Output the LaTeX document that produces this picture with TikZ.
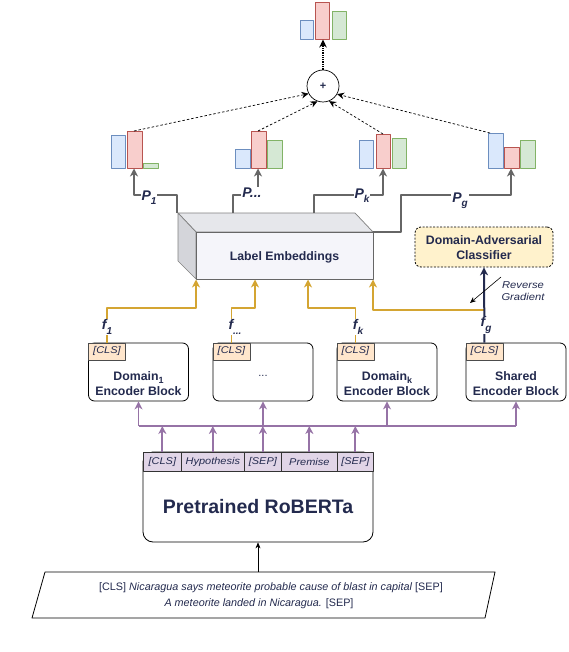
\documentclass[tikz,border=0pt]{standalone}
\usepackage{fontspec}
\setmainfont{Liberation Sans}
\newfontfamily\widefont[FakeStretch=1.12]{Liberation Sans}
\usetikzlibrary{arrows.meta}
\definecolor{navy}{RGB}{35,42,78}
\definecolor{gold}{RGB}{212,165,50}
\definecolor{purp}{HTML}{9673A6}
\definecolor{gline}{HTML}{666666}
\definecolor{bfill}{HTML}{DAE8FC}\definecolor{bdraw}{HTML}{6C8EBF}
\definecolor{rfill}{HTML}{F8CECC}\definecolor{rdraw}{HTML}{B85450}
\definecolor{gfill}{HTML}{D5E8D4}\definecolor{gdraw}{HTML}{82B366}
\definecolor{yfill}{HTML}{FFF2CC}
\definecolor{ofill}{HTML}{FFE6CC}
\definecolor{lfill}{HTML}{E1D5E7}
\definecolor{topface}{HTML}{E6E7EB}
\definecolor{leftface}{HTML}{D4D5DA}
\definecolor{frontface}{HTML}{F5F5FA}
\newcommand\lsub[1]{\raisebox{-0.3em}{\fontsize{10}{10}\selectfont #1}}
\newcommand\tsub[1]{\raisebox{-0.25em}{\fontsize{9}{9}\selectfont #1}}
\begin{document}
\begin{tikzpicture}[x=1pt,y=-1pt,line join=round,
  bb/.style={fill=bfill,draw=bdraw,line width=0.8pt},
  rb/.style={fill=rfill,draw=rdraw,line width=0.8pt},
  gb/.style={fill=gfill,draw=gdraw,line width=0.8pt},
  tipA/.style={-{Stealth[length=8pt,width=8pt,inset=2.5pt]}},
  garr/.style={draw=gline,line width=1.8pt,tipA},
  goldarr/.style={draw=gold,line width=1.8pt,tipA},
  parr/.style={draw=purp,line width=1.8pt,tipA},
  pline/.style={draw=purp,line width=1.8pt},
  narr/.style={draw=navy,line width=2pt,tipA},
  dasharr/.style={draw=black,line width=0.7pt,dash pattern=on 2.5pt off 2pt,-{Stealth[length=7pt,width=6.5pt]}},
  dotarr/.style={draw=black,line width=1.3pt,densely dotted,-{Stealth[length=8pt,width=7.5pt]}},
  lbl/.style={font=\fontsize{14}{14}\selectfont\bfseries\itshape,text=navy,fill=white,inner sep=1pt},
  boldtxt/.style={font=\fontsize{12.3}{15}\selectfont\bfseries,text=navy,align=center},
  encbox/.style={draw=black,line width=0.8pt,rounded corners=6pt,minimum width=100pt,minimum height=58pt,inner sep=0pt},
  tagbox/.style={draw=gray!60!black,line width=0.7pt,fill=ofill,minimum width=37pt,minimum height=17pt,inner sep=0pt,anchor=north west,font=\widefont\fontsize{9.8}{10}\selectfont\itshape,text=navy},
  cellbox/.style={draw=black!80,line width=0.7pt,fill=lfill,minimum height=19pt,inner sep=0pt,anchor=north west,font=\widefont\fontsize{9.8}{10}\selectfont\itshape,text=navy},
]
\useasboundingbox (0,0) rectangle (568,652);

% ---------- top result bars
\draw[bb] (300,20) rectangle (313,39);
\draw[rb] (315,2) rectangle (329,39);
\draw[gb] (332,11) rectangle (346,39);
\coordinate (topbars) at (323,39.5);

% ---------- per-head bars
\draw[bb] (111,135) rectangle (125,168);
\draw[rb] (127,131) rectangle (142,168);
\draw[gb] (143,163) rectangle (158,168);
\draw[bb] (235,149) rectangle (250,168);
\draw[rb] (251,131) rectangle (266,168);
\draw[gb] (267,140) rectangle (282,168);
\draw[bb] (359,140) rectangle (373,168);
\draw[rb] (376,134) rectangle (390,168);
\draw[gb] (392,138) rectangle (406,168);
\draw[bb] (488,133) rectangle (503,168);
\draw[rb] (504,147) rectangle (519,168);
\draw[gb] (520,140) rectangle (535,168);
\coordinate (ch1) at (134,168.5);
\coordinate (ch2) at (258,168.5);
\coordinate (ch3) at (383,168.5);
\coordinate (ch4) at (511,168.5);
\coordinate (d1) at (134,131);
\coordinate (d2) at (258,131);
\coordinate (d3) at (383,134);
\coordinate (d4) at (490,133);

% ---------- sum node
\node[draw,circle,minimum size=32pt,inner sep=0pt,line width=0.7pt,text=navy,font=\bfseries\fontsize{11}{11}\selectfont] (plus) at (323,86) {+};
\draw[dotarr] (plus.north) -- (topbars);
\draw[dasharr] (d1) -- (plus.208);
\draw[dasharr] (d2) -- (plus.250);
\draw[dasharr] (d3) -- (plus.292);
\draw[dasharr] (d4) -- (plus.330);

% ---------- label embeddings 3D box
\draw[draw=gray,line width=0.7pt,fill=topface] (178,213) -- (355,213) -- (373,232) -- (196,232) -- cycle;
\draw[draw=gray,line width=0.7pt,fill=leftface] (178,213) -- (196,232) -- (196,279) -- (178,261) -- cycle;
\node[draw=gray!80!black,line width=0.7pt,fill=frontface,minimum width=177pt,minimum height=47pt,inner sep=0pt] (le) at (284.5,255.5) {};
\node[boldtxt] (letext) at (284.5,257) {Label Embeddings};
\coordinate (p1s) at (177,213);
\coordinate (p2s) at (233,213);
\coordinate (p3s) at (314,213);

% ---------- P connectors
\draw[garr] (p1s) -- ++(0,-18) -| (ch1);
\draw[garr] (p2s) -- ++(0,-18) -| (ch2);
\draw[garr] (p3s) -- ++(0,-18) -| (ch3);
\draw[garr] (le.north east) -- ++(28,0) -- ++(0,-37) -| (ch4);
\node[lbl] (lp1) at (149,198) {P\lsub{1}};
\node[lbl] (lp2) at (252,193) {P...};
\node[lbl] (lp3) at (362,196) {P\lsub{k}};
\node[lbl] (lp4) at (460,201) {P\lsub{g}};

% ---------- domain adversarial classifier
\node[draw=black,line width=0.8pt,dash pattern=on 2pt off 1.5pt,rounded corners=6pt,fill=yfill,minimum width=138pt,minimum height=40pt,inner sep=0pt] (dac) at (484,247) {};
\node[boldtxt] (dactext) at (484,248) {Domain-Adversarial\\Classifier};

% ---------- encoder blocks
\node[encbox] (e1) at (138.5,372) {};
\node[encbox] (e2) at (263,372) {};
\node[encbox] (e3) at (387,372) {};
\node[encbox] (e4) at (516,372) {};
\node[tagbox] (t1) at (e1.north west) {[CLS]};
\node[tagbox] (t2) at (e2.north west) {[CLS]};
\node[tagbox] (t3) at (e3.north west) {[CLS]};
\node[tagbox] (t4) at (e4.north west) {[CLS]};
\node[boldtxt] (e1t) at (138.5,384) {Domain\tsub{1}\\Encoder Block};
\node[text=navy,font=\fontsize{11}{11}\selectfont] (e2t) at (263,376) {...};
\node[boldtxt] (e3t) at (387,384) {Domain\tsub{k}\\Encoder Block};
\node[boldtxt] (e4t) at (516,384) {Shared\\Encoder Block};

% ---------- f connectors
\coordinate (in2) at (255,279.5);
\coordinate (in3) at (308,279.5);
\coordinate (fgsplit) at (484,310);
\coordinate (inL) at (196,279.5);
\coordinate (inR) at (373,279.5);
\draw[goldarr] (t1.north) -- ++(0,-35) -| (inL);
\draw[goldarr] (t2.north) -- ++(0,-35) -| (in2);
\draw[goldarr] (t3.north) -- ++(0,-35) -| (in3);
\draw[goldarr] (fgsplit) -| (inR);
\draw[narr] (t4.north) -- (dac.south);
\node[lbl] (lf1) at (107,327) {f\lsub{1}};
\node[lbl] (lf2) at (235,327) {f\lsub{...}};
\node[lbl] (lf3) at (358,327) {f\lsub{k}};
\node[lbl] (lf4) at (486,325) {f\lsub{g}};

% reverse gradient
\coordinate (rg1) at (501,277);
\coordinate (rg2) at (470,303);
\draw[line width=0.6pt,-{Stealth[length=6pt,width=5pt]}] (rg1) -- (rg2);
\node[text=navy,font=\widefont\fontsize{10}{12.5}\selectfont\itshape,align=center] (rgt) at (523,291) {Reverse\\Gradient};

% ---------- RoBERTa
\node[draw=black,line width=0.8pt,rounded corners=10pt,minimum width=230pt,minimum height=90pt,inner sep=0pt] (rob) at (258,497) {};
\node[cellbox,minimum width=38pt] (c1) at (143,452) {[CLS]};
\node[cellbox,minimum width=63pt] (c2) at (181,452) {Hypothesis};
\node[cellbox,minimum width=37pt] (c3) at (244,452) {[SEP]};
\node[cellbox,minimum width=56pt] (c4) at (281,452) {Premise};
\node[cellbox,minimum width=36pt] (c5) at (337,452) {[SEP]};
\node[text=navy,font=\fontsize{19.5}{20}\selectfont\bfseries] (robt) at (258,507) {Pretrained RoBERTa};

% ---------- purple bus
\coordinate (bus) at (138,426);
\draw[pline] (e1.south |- bus) -- (e4.south |- bus);
\draw[parr] (e1.south |- bus) -- (e1.south);
\draw[parr] (e2.south |- bus) -- (e2.south);
\draw[parr] (e3.south |- bus) -- (e3.south);
\draw[parr] (e4.south |- bus) -- (e4.south);
\draw[parr] (c1.north) -- (c1.north |- bus);
\draw[parr] (c2.north) -- (c2.north |- bus);
\draw[parr] (c3.north) -- (c3.north |- bus);
\draw[parr] (c4.north) -- (c4.north |- bus);
\draw[parr] (c5.north) -- (c5.north |- bus);

% ---------- input
\draw[line width=0.8pt,fill=white] (45,572) -- (495,572) -- (485,618) -- (32,618) -- cycle;
\coordinate (inptop) at (258,572);
\node[text=navy,font=\fontsize{10.8}{12}\selectfont] (inp1) at (271,588)
  {[CLS] \textit{Nicaragua says meteorite probable cause of blast in capital} [SEP]};
\node[text=navy,font=\fontsize{10.8}{12}\selectfont] (inp2) at (259,604)
  {\textit{A meteorite landed in Nicaragua.} [SEP]};
\draw[line width=0.6pt,-{Stealth[length=6pt,width=5pt]}] (inptop) -- (rob.south);
\end{tikzpicture}
\end{document}
